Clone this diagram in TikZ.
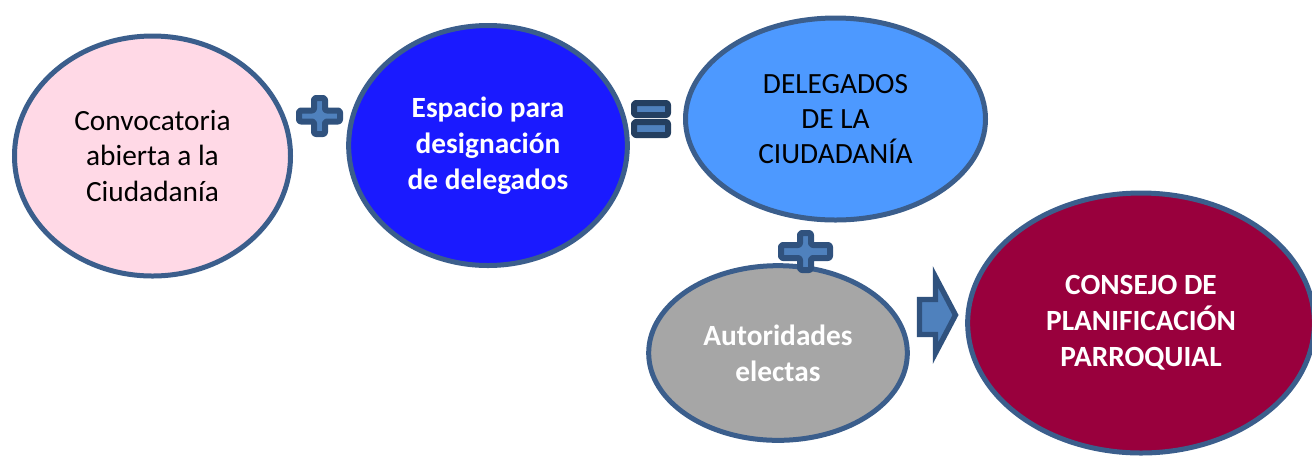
\documentclass[tikz,border=0pt]{standalone}
\usepackage{fontspec}
\setmainfont{Carlito}
\usetikzlibrary{shapes}
\definecolor{rim}{HTML}{3B5E8C}
\definecolor{signfill}{HTML}{4F81BD}
\definecolor{signrim}{HTML}{30527E}
\definecolor{eqrim}{HTML}{243F60}
\definecolor{pinkfill}{HTML}{FFD9E6}
\definecolor{bluefill}{HTML}{1A1AFF}
\definecolor{skyfill}{HTML}{4D99FF}
\definecolor{grayfill}{HTML}{A6A6A6}
\definecolor{winefill}{HTML}{99003D}
\tikzstyle{bubble} = [draw=rim, line width=3.75pt, ellipse, inner sep=0pt,
    align=center, font=\fontsize{22}{26.5}\selectfont]
\tikzstyle{boldtext} = [text=white, font=\fontsize{22}{27}\selectfont\bfseries]
\tikzstyle{sign} = [draw=signrim, fill=signfill, line width=4.5pt,
    rounded corners=1.5pt, line join=round]

\begin{document}
\begin{tikzpicture}[x=0.75pt, y=-0.75pt]
\useasboundingbox (0,0) rectangle (1312,455);
\coordinate (C1) at (152.5,156);
\coordinate (C2) at (488,145.5);
\coordinate (C3) at (835.5,119);
\coordinate (C4) at (778,353);
\coordinate (C5) at (1141,323);

\coordinate (P1) at (319.5,116);
\coordinate (P2) at (805.5,251.5);
\coordinate (Q) at (651,119);

\node[bubble, fill=pinkfill, minimum width=207pt, minimum height=180pt] (convocatoria) at (C1)
    {Convocatoria\\abierta a la\\Ciudadanía};
\node[bubble, boldtext, fill=bluefill, minimum width=209pt, minimum height=180pt] (espacio) at (C2)
    {Espacio para\\designación\\de delegados};
\node[bubble, fill=skyfill, minimum width=225pt, minimum height=151.5pt] (delegados) at (C3)
    {DELEGADOS\\DE LA\\CIUDADANÍA};
\node[bubble, boldtext, fill=grayfill, minimum width=194pt, minimum height=131pt] (autoridades) at (C4)
    {Autoridades\\electas};
\node[bubble, boldtext, fill=winefill, minimum width=260pt, minimum height=195pt] (consejo) at (C5)
    {CONSEJO DE\\PLANIFICACIÓN\\PARROQUIAL};

% plus signs
\draw[sign, shift={(P1)}] (-5.5,-18) -- (5.5,-18) -- (5.5,-5.5) -- (20.5,-5.5) -- (20.5,5.5)
    -- (5.5,5.5) -- (5.5,18) -- (-5.5,18) -- (-5.5,5.5) -- (-20.5,5.5) -- (-20.5,-5.5)
    -- (-5.5,-5.5) -- cycle;
\draw[sign, shift={(P2)}] (-5.5,-18.5) -- (5.5,-18.5) -- (5.5,-6.5) -- (24.5,-6.5) -- (24.5,6.5)
    -- (5.5,6.5) -- (5.5,18.5) -- (-5.5,18.5) -- (-5.5,6.5) -- (-24.5,6.5) -- (-24.5,-6.5)
    -- (-5.5,-6.5) -- cycle;

% equals sign
\draw[sign, draw=eqrim, shift={(Q)}] (-17,-16) rectangle (17,-4);
\draw[sign, draw=eqrim, shift={(Q)}] (-17,3) rectangle (17,16);

% arrow
\draw[sign, line width=4pt, rounded corners=0pt, line join=miter] (919.5,299.5) -- (935.5,299.5)
    -- (935.5,277) -- (955.5,315) -- (935.5,353) -- (935.5,334.5) -- (919.5,334.5) -- cycle;
\end{tikzpicture}
\end{document}
